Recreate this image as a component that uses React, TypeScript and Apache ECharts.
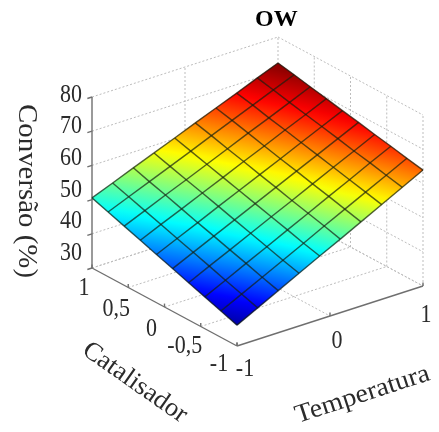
import React, { useEffect, useRef } from "react";
import * as echarts from "echarts";

const titleText = "OW";
const zAxisName = "Conversão (%)";
const cAxisName = "Catalisador";
const tAxisName = "Temperatura";

const zTicks = [30, 40, 50, 60, 70, 80];
const cTicks = [1, 0.5, 0, -0.5, -1];
const tTicks = [-1, 0, 1];
const cTickLabels = ["1", "0,5", "0", "-0,5", "-1"];
const tTickLabels = ["-1", "0", "1"];

const tMesh = [-1, -0.778, -0.556, -0.333, -0.111, 0.111, 0.333, 0.556, 0.778, 1];
const cMesh = [1, 0.778, 0.556, 0.333, 0.111, -0.111, -0.333, -0.556, -0.778, -1];
// rows follow cMesh, columns follow tMesh
const conversion = [
  [50.5, 52.9, 55.4, 57.8, 60.2, 62.7, 65.1, 67.5, 70.0, 72.4],
  [48.9, 51.4, 53.9, 56.4, 58.9, 61.5, 64.0, 66.5, 69.0, 71.5],
  [47.3, 49.9, 52.5, 55.0, 57.6, 60.2, 62.8, 65.3, 67.9, 70.5],
  [45.7, 48.4, 51.0, 53.7, 56.3, 59.0, 61.6, 64.3, 66.9, 69.6],
  [44.1, 46.8, 49.5, 52.3, 55.0, 57.7, 60.4, 63.2, 65.9, 68.6],
  [42.5, 45.3, 48.1, 50.9, 53.7, 56.5, 59.3, 62.1, 64.9, 67.7],
  [40.9, 43.8, 46.6, 49.5, 52.4, 55.2, 58.1, 61.0, 63.8, 66.7],
  [39.3, 42.2, 45.2, 48.1, 51.1, 54.0, 57.0, 59.9, 62.9, 65.8],
  [37.7, 40.7, 43.7, 46.7, 49.7, 52.8, 55.8, 58.8, 61.8, 64.8],
  [36.1, 39.2, 42.3, 45.4, 48.5, 51.5, 54.6, 57.7, 60.8, 63.9],
];

const jet: [number, string][] = [
  [0, "#00008f"],
  [0.125, "#0000ff"],
  [0.375, "#00ffff"],
  [0.625, "#ffff00"],
  [0.875, "#ff0000"],
  [1, "#8a0000"],
];

const W = 439;
const H = 432;
const zMin = 30;
const zMax = 80;
const colorLo = 35.2;
const colorHi = 72;
const SERIF = "'Liberation Serif', 'Times New Roman', serif";
const INK = "#2b2b2b";

// oblique view of the unit box
function project(t: number, c: number, z: number): [number, number] {
  return [
    237 + (t + 1) * 93 - (c + 1) * 72.5,
    346 - (t + 1) * 30 - (c + 1) * 39 - (z - zMin) * 3.42,
  ];
}

function jetAt(v: number): string {
  const u = Math.max(0, Math.min(1, v));
  for (let i = 1; i < jet.length; i++) {
    if (u <= jet[i][0]) {
      const [a, ca] = jet[i - 1];
      const [b, cb] = jet[i];
      const k = (u - a) / (b - a);
      const pa = [1, 3, 5].map((s) => parseInt(ca.slice(s, s + 2), 16));
      const pb = [1, 3, 5].map((s) => parseInt(cb.slice(s, s + 2), 16));
      const m = pa.map((p, n) => Math.round(p + (pb[n] - p) * k));
      return `rgb(${m[0]},${m[1]},${m[2]})`;
    }
  }
  return jet[jet.length - 1][1];
}

type Seg = [number, number, number, number, number, number];

const wallSegs: Seg[] = [];
zTicks.forEach((z) => {
  wallSegs.push([-1, 1, z, 1, 1, z]);
  wallSegs.push([1, 1, z, 1, -1, z]);
});
wallSegs.push([0, 1, zMin, 0, 1, zMax]);
cTicks.forEach((c) => wallSegs.push([1, c, zMin, 1, c, zMax]));
cTicks.slice(1, -1).forEach((c) => wallSegs.push([-1, c, zMin, 1, c, zMin]));
wallSegs.push([0, 1, zMin, 0, -1, zMin]);
wallSegs.push([-1, 1, zMin, 1, 1, zMin]);
wallSegs.push([1, 1, zMin, 1, -1, zMin]);

const axisSegs: Seg[] = [
  [-1, 1, zMin, -1, 1, zMax],
  [-1, 1, zMin, -1, -1, zMin],
  [-1, -1, zMin, 1, -1, zMin],
];
zTicks.forEach((z) => axisSegs.push([-1, 1, z, -1.05, 1, z]));
cTicks.forEach((c) => axisSegs.push([-1, c, zMin, -1, c, zMin + 1]));
tTicks.forEach((t) => axisSegs.push([t, -1, zMin, t, -1, zMin + 1]));

const meshSegs: Seg[] = [];
cMesh.forEach((c, i) =>
  tMesh.slice(1).forEach((t, j) =>
    meshSegs.push([tMesh[j], c, conversion[i][j], t, c, conversion[i][j + 1]]),
  ),
);
tMesh.forEach((t, j) =>
  cMesh.slice(1).forEach((c, i) =>
    meshSegs.push([t, cMesh[i], conversion[i][j], t, c, conversion[i + 1][j]]),
  ),
);

const cells: number[][] = [];
for (let i = 0; i < cMesh.length - 1; i++) {
  for (let j = 0; j < tMesh.length - 1; j++) cells.push([i, j]);
}

const zLabelShift = (z: number): [number, number] => [-21, -4 - (zMax - z) * 0.25];
const cLabelShift: [number, number][] = [[-8, 18], [-12, 20], [-13, 20], [-16, 18], [-18, 16]];
const tLabelShift: [number, number][] = [[8, 21], [7, 23], [3, 27]];

type Label = [number, number, number, string, number, number];
const tickLabelRows: Label[] = [
  ...zTicks.map((z): Label => [-1, 1, z, String(z), ...zLabelShift(z)]),
  ...cTicks.map((c, i): Label => [-1, c, zMin, cTickLabels[i], ...cLabelShift[i]]),
  ...tTicks.map((t, i): Label => [t, -1, zMin, tTickLabels[i], ...tLabelShift[i]]),
];

function segSeries(data: Seg[], stroke: string, width: number, dash?: number[], z = 1) {
  return {
    type: "custom",
    coordinateSystem: "cartesian2d",
    silent: true,
    clip: false,
    z,
    data,
    renderItem: (_: any, api: any) => {
      const a = api.coord(project(api.value(0), api.value(1), api.value(2)));
      const b = api.coord(project(api.value(3), api.value(4), api.value(5)));
      return {
        type: "line",
        shape: { x1: a[0], y1: a[1], x2: b[0], y2: b[1] },
        style: { stroke, lineWidth: width, lineDash: dash, fill: "none" },
      };
    },
  };
}

const surfaceSeries = {
  type: "custom",
  coordinateSystem: "cartesian2d",
  silent: true,
  clip: false,
  z: 3,
  data: cells,
  renderItem: (_: any, api: any) => {
    const i = api.value(0);
    const j = api.value(1);
    const at = (r: number, s: number) =>
      api.coord(project(tMesh[s], cMesh[r], conversion[r][s])) as number[];
    const p0 = at(i, j);
    const p1 = at(i, j + 1);
    const p2 = at(i + 1, j + 1);
    const p3 = at(i + 1, j);
    const z0 = conversion[i][j];
    const z1 = conversion[i][j + 1];
    const z2 = conversion[i + 1][j + 1];
    const z3 = conversion[i + 1][j];
    // plane through the cell, as a colour gradient in page coordinates
    const ux = p1[0] - p0[0], uy = p1[1] - p0[1], du = z1 - z0;
    const vx = p3[0] - p0[0], vy = p3[1] - p0[1], dv = z3 - z0;
    const det = ux * vy - uy * vx;
    const gx = (du * vy - dv * uy) / det;
    const gy = (dv * ux - du * vx) / det;
    const g2 = gx * gx + gy * gy;
    const lo = Math.min(z0, z1, z2, z3);
    const hi = Math.max(z0, z1, z2, z3);
    const pos = (v: number) => [
      p0[0] + ((v - z0) * gx) / g2,
      p0[1] + ((v - z0) * gy) / g2,
    ];
    const a = pos(lo);
    const b = pos(hi);
    const stops = [0, 0.25, 0.5, 0.75, 1].map((o) => ({
      offset: o,
      color: jetAt((lo + (hi - lo) * o - colorLo) / (colorHi - colorLo)),
    }));
    const fill = new echarts.graphic.LinearGradient(a[0], a[1], b[0], b[1], stops, true);
    return {
      type: "polygon",
      shape: { points: [p0, p1, p2, p3] },
      style: { fill, stroke: fill, lineWidth: 0.5 },
    };
  },
};

const tickLabelSeries = {
  type: "custom",
  coordinateSystem: "cartesian2d",
  silent: true,
  clip: false,
  z: 5,
  data: tickLabelRows.map((r) => ({ value: [r[0], r[1], r[2], r[4], r[5]], label: r[3] })),
  renderItem: (p: any, api: any) => {
    const o = api.coord(project(api.value(0), api.value(1), api.value(2)));
    return {
      type: "text",
      x: o[0] + api.value(3),
      y: o[1] + api.value(4),
      scaleY: 1.15,
      style: {
        text: tickLabelRows[p.dataIndex][3],
        font: `22px ${SERIF}`,
        fill: INK,
        align: "center",
        verticalAlign: "middle",
      },
    };
  },
};

function axisName(text: string, x: number, y: number, deg: number, size: number, stretch = 1) {
  return {
    type: "text",
    x,
    y,
    rotation: (deg * Math.PI) / 180,
    scaleX: stretch,
    style: {
      text,
      font: `${size}px ${SERIF}`,
      fill: INK,
      align: "center",
      verticalAlign: "middle",
    },
  };
}

export default function App() {
  const ref = useRef<HTMLDivElement>(null);
  useEffect(() => {
    const chart = echarts.init(ref.current!, undefined, { renderer: "svg" });
    chart.setOption({
      animation: false,
      backgroundColor: "#ffffff",
      title: {
        text: titleText,
        left: 250,
        top: 1,
        textStyle: { fontFamily: SERIF, fontWeight: "bold", fontSize: 24, color: "#000" },
      },
      grid: { left: 0, top: 0, width: W, height: H, show: false },
      xAxis: { type: "value", min: 0, max: W, show: false },
      yAxis: { type: "value", min: 0, max: H, inverse: true, show: false },
      graphic: [
        axisName(zAxisName, 28, 191, -90, 27, 1.07),
        axisName(cAxisName, 136, 381, -35, 26, 1.03),
        axisName(tAxisName, 362, 393, 18, 26, 1.07),
      ],
      series: [
        segSeries(wallSegs, "#bdbdbd", 1, [2, 2], 1),
        segSeries(axisSegs, "#6f6f6f", 1.4, undefined, 2),
        surfaceSeries,
        segSeries(meshSegs, "rgba(15,25,10,0.68)", 1.4, undefined, 4),
        tickLabelSeries,
      ],
    });
    return () => chart.dispose();
  }, []);
  return (
    <div
      ref={ref}
      style={{ position: "fixed", left: 0, top: 0, width: W, height: H, filter: "blur(0.55px)" }}
    />
  );
}
